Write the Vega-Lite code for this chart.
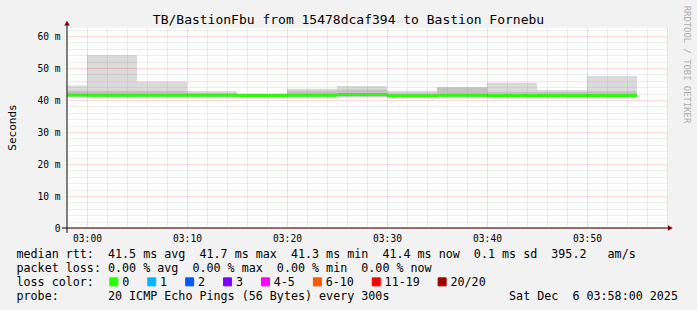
{
  "$schema": "https://vega.github.io/schema/vega-lite/v6.json",
  "width": 600,
  "height": 200,
  "autosize": {"type": "none"},
  "padding": {"left": 67, "top": 28, "right": 30, "bottom": 82},
  "background": "#f2f2f2",
  "config": {
    "view": {"fill": "white", "stroke": null},
    "axis": {"labelFont": "DejaVu Sans Mono", "titleFont": "DejaVu Sans Mono", "titleFontWeight": "normal", "titleColor": "black", "labelColor": "black"}
  },
  "datasets": {
    "smoke": [
      {"start": "2025-12-06T02:55:00", "end": "2025-12-06T03:00:00", "lo": 40.8, "ilo": 41.0, "med": 41.6, "ihi": 42.9, "hi": 44.5, "loss": "0"},
      {"start": "2025-12-06T03:00:00", "end": "2025-12-06T03:05:00", "lo": 40.8, "ilo": 41.0, "med": 41.5, "ihi": 42.9, "hi": 54.1, "loss": "0"},
      {"start": "2025-12-06T03:05:00", "end": "2025-12-06T03:10:00", "lo": 40.9, "ilo": 41.1, "med": 41.5, "ihi": 42.8, "hi": 45.8, "loss": "0"},
      {"start": "2025-12-06T03:10:00", "end": "2025-12-06T03:15:00", "lo": 40.9, "ilo": 41.1, "med": 41.5, "ihi": 42.2, "hi": 42.8, "loss": "0"},
      {"start": "2025-12-06T03:15:00", "end": "2025-12-06T03:20:00", "lo": 40.9, "ilo": 41.1, "med": 41.4, "ihi": 41.9, "hi": 42.1, "loss": "0"},
      {"start": "2025-12-06T03:20:00", "end": "2025-12-06T03:25:00", "lo": 40.8, "ilo": 41.0, "med": 41.5, "ihi": 42.9, "hi": 43.5, "loss": "0"},
      {"start": "2025-12-06T03:25:00", "end": "2025-12-06T03:30:00", "lo": 40.8, "ilo": 41.0, "med": 41.7, "ihi": 43.3, "hi": 44.4, "loss": "0"},
      {"start": "2025-12-06T03:30:00", "end": "2025-12-06T03:35:00", "lo": 40.7, "ilo": 40.9, "med": 41.3, "ihi": 42.3, "hi": 42.9, "loss": "0"},
      {"start": "2025-12-06T03:35:00", "end": "2025-12-06T03:40:00", "lo": 40.8, "ilo": 41.0, "med": 41.5, "ihi": 43.9, "hi": 44.1, "loss": "0"},
      {"start": "2025-12-06T03:40:00", "end": "2025-12-06T03:45:00", "lo": 40.8, "ilo": 41.0, "med": 41.4, "ihi": 42.6, "hi": 45.5, "loss": "0"},
      {"start": "2025-12-06T03:45:00", "end": "2025-12-06T03:50:00", "lo": 40.8, "ilo": 41.0, "med": 41.4, "ihi": 42.5, "hi": 43.1, "loss": "0"},
      {"start": "2025-12-06T03:50:00", "end": "2025-12-06T03:55:00", "lo": 40.8, "ilo": 41.0, "med": 41.4, "ihi": 42.7, "hi": 47.5, "loss": "0"}
    ]
  },
  "layer": [
    {
      "data": {"name": "smoke"},
      "mark": {"type": "rect", "color": "#dadada", "clip": true},
      "encoding": {
        "x": {
          "field": "start", "type": "temporal",
          "scale": {"domain": [{"year": 2025, "month": 12, "date": 6, "hours": 2, "minutes": 58}, {"year": 2025, "month": 12, "date": 6, "hours": 3, "minutes": 58}], "nice": false},
          "axis": {
            "orient": "bottom", "format": "%H:%M",
            "values": [
              {"year": 2025, "month": 12, "date": 6, "hours": 3, "minutes": 0},
              {"year": 2025, "month": 12, "date": 6, "hours": 3, "minutes": 10},
              {"year": 2025, "month": 12, "date": 6, "hours": 3, "minutes": 20},
              {"year": 2025, "month": 12, "date": 6, "hours": 3, "minutes": 30},
              {"year": 2025, "month": 12, "date": 6, "hours": 3, "minutes": 40},
              {"year": 2025, "month": 12, "date": 6, "hours": 3, "minutes": 50}
            ],
            "labelFontSize": 9.6, "labelPadding": 5, "labelFlush": false, "labelOverlap": false,
            "ticks": false, "domain": false,
            "grid": true, "gridColor": "#ff0000", "gridOpacity": 0.3, "gridDash": [1, 1], "gridWidth": 1, "zindex": 2,
            "title": [
              "median\u00a0rtt:\u00a0\u00a041.5\u00a0ms\u00a0avg\u00a0\u00a041.7\u00a0ms\u00a0max\u00a0\u00a041.3\u00a0ms\u00a0min\u00a0\u00a041.4\u00a0ms\u00a0now\u00a0\u00a00.1\u00a0ms\u00a0sd\u00a0\u00a0395.2\u00a0\u00a0\u00a0am/s",
              "packet\u00a0loss:\u00a00.00\u00a0%\u00a0avg\u00a0\u00a00.00\u00a0%\u00a0max\u00a0\u00a00.00\u00a0%\u00a0min\u00a0\u00a00.00\u00a0%\u00a0now",
              "loss\u00a0color:",
              "probe:\u00a0\u00a0\u00a0\u00a0\u00a0\u00a0\u00a020\u00a0ICMP\u00a0Echo\u00a0Pings\u00a0(56\u00a0Bytes)\u00a0every\u00a0300s\u00a0\u00a0\u00a0\u00a0\u00a0\u00a0\u00a0\u00a0\u00a0\u00a0\u00a0\u00a0\u00a0\u00a0\u00a0\u00a0\u00a0Sat\u00a0Dec\u00a0\u00a06\u00a003:58:00\u00a02025"
            ],
            "titleX": -51, "titleY": 29.5, "titleAlign": "left", "titleAnchor": "start", "titleBaseline": "alphabetic",
            "titleFontSize": 11.7, "titleLineHeight": 14
          }
        },
        "x2": {"field": "end"},
        "y": {
          "field": "lo", "type": "quantitative",
          "scale": {"domain": [0, 62.5], "nice": false, "zero": false},
          "axis": {
            "orient": "left", "values": [0, 10, 20, 30, 40, 50, 60],
            "labelExpr": "datum.value == 0 ? '0\u00a0\u00a0' : datum.value + ' m'",
            "labelFontSize": 9.6, "labelPadding": 7, "ticks": false, "domain": false,
            "grid": true, "gridColor": "#ff0000", "gridOpacity": 0.3, "gridDash": [1, 1], "gridWidth": 1, "zindex": 2,
            "title": "Seconds", "titleFontSize": 11, "titleX": -52, "titleY": 99, "titleAngle": -90,
            "titleAlign": "center", "titleBaseline": "alphabetic"
          }
        },
        "y2": {"field": "hi"}
      }
    },
    {
      "data": {"name": "smoke"},
      "mark": {"type": "rect", "color": "#c2c2c2", "clip": true},
      "encoding": {
        "x": {
          "field": "start", "type": "temporal",
          "axis": {
            "orient": "bottom",
            "values": [
              {"year": 2025, "month": 12, "date": 6, "hours": 2, "minutes": 58},
              {"year": 2025, "month": 12, "date": 6, "hours": 3, "minutes": 2},
              {"year": 2025, "month": 12, "date": 6, "hours": 3, "minutes": 4},
              {"year": 2025, "month": 12, "date": 6, "hours": 3, "minutes": 6},
              {"year": 2025, "month": 12, "date": 6, "hours": 3, "minutes": 8},
              {"year": 2025, "month": 12, "date": 6, "hours": 3, "minutes": 12},
              {"year": 2025, "month": 12, "date": 6, "hours": 3, "minutes": 14},
              {"year": 2025, "month": 12, "date": 6, "hours": 3, "minutes": 16},
              {"year": 2025, "month": 12, "date": 6, "hours": 3, "minutes": 18},
              {"year": 2025, "month": 12, "date": 6, "hours": 3, "minutes": 22},
              {"year": 2025, "month": 12, "date": 6, "hours": 3, "minutes": 24},
              {"year": 2025, "month": 12, "date": 6, "hours": 3, "minutes": 26},
              {"year": 2025, "month": 12, "date": 6, "hours": 3, "minutes": 28},
              {"year": 2025, "month": 12, "date": 6, "hours": 3, "minutes": 32},
              {"year": 2025, "month": 12, "date": 6, "hours": 3, "minutes": 34},
              {"year": 2025, "month": 12, "date": 6, "hours": 3, "minutes": 36},
              {"year": 2025, "month": 12, "date": 6, "hours": 3, "minutes": 38},
              {"year": 2025, "month": 12, "date": 6, "hours": 3, "minutes": 42},
              {"year": 2025, "month": 12, "date": 6, "hours": 3, "minutes": 44},
              {"year": 2025, "month": 12, "date": 6, "hours": 3, "minutes": 46},
              {"year": 2025, "month": 12, "date": 6, "hours": 3, "minutes": 48},
              {"year": 2025, "month": 12, "date": 6, "hours": 3, "minutes": 52},
              {"year": 2025, "month": 12, "date": 6, "hours": 3, "minutes": 54},
              {"year": 2025, "month": 12, "date": 6, "hours": 3, "minutes": 56},
              {"year": 2025, "month": 12, "date": 6, "hours": 3, "minutes": 58}
            ],
            "labels": false, "ticks": false, "domain": false,
            "grid": true, "gridColor": "#999999", "gridOpacity": 0.35, "gridDash": [1, 1], "gridWidth": 1, "zindex": 1,
            "title": null
          }
        },
        "x2": {"field": "end"},
        "y": {
          "field": "ilo", "type": "quantitative",
          "axis": {
            "orient": "left", "values": [2, 4, 6, 8, 12, 14, 16, 18, 22, 24, 26, 28, 32, 34, 36, 38, 42, 44, 46, 48, 52, 54, 56, 58, 62],
            "labels": false, "ticks": false, "domain": false,
            "grid": true, "gridColor": "#999999", "gridOpacity": 0.35, "gridDash": [1, 1], "gridWidth": 1, "zindex": 1,
            "title": null
          }
        },
        "y2": {"field": "ihi"}
      }
    },
    {
      "data": {"name": "smoke"},
      "mark": {"type": "rule", "strokeWidth": 3, "clip": true},
      "encoding": {
        "x": {
          "field": "start", "type": "temporal",
          "axis": {
            "orient": "top", "labels": false, "ticks": false, "domain": false, "grid": false,
            "title": "TB/BastionFbu from 15478dcaf394 to Bastion Fornebu",
            "titleFontSize": 13, "titleX": 281, "titleY": -4.5, "titleAlign": "center", "titleBaseline": "alphabetic"
          }
        },
        "x2": {"field": "end"},
        "y": {
          "field": "med", "type": "quantitative",
          "axis": {
            "orient": "right", "labels": false, "ticks": false, "domain": false, "grid": false,
            "title": "RRDTOOL / TOBI OETIKER", "titleFontSize": 8.9, "titleColor": "#aaaaaa",
            "titleAngle": 90, "titleX": 19.5, "titleY": 36, "titleAlign": "center", "titleBaseline": "middle"
          }
        },
        "color": {
          "field": "loss", "type": "nominal",
          "scale": {
            "domain": ["0", "1", "2", "3", "4-5", "6-10", "11-19", "20/20"],
            "range": ["#26ff00", "#00b8ff", "#0059ff", "#7e00ff", "#ff00ff", "#ff5500", "#ff0000", "#a10000"]
          },
          "legend": {
            "orient": "none", "legendX": 41, "legendY": 248, "direction": "horizontal", "padding": 0,
            "title": null, "gridAlign": "none",
            "labelFont": "DejaVu Sans Mono", "labelFontSize": 11.7, "labelColor": "black", "labelOffset": 2.5,
            "columnPadding": 14.9, "symbolType": "square", "symbolSize": 64, "symbolStrokeColor": "black", "symbolStrokeWidth": 1,
            "encode": {"symbols": {"update": {"fill": {"scale": "color", "field": "value"}, "stroke": {"value": "black"}, "strokeWidth": {"value": 1}, "opacity": {"value": 1}}}}
          }
        }
      }
    },
    {
      "data": {"values": [{}]},
      "mark": {"type": "rule", "color": "black", "strokeWidth": 1},
      "encoding": {
        "x": {"datum": {"year": 2025, "month": 12, "date": 6, "hours": 2, "minutes": 57, "seconds": 30}, "type": "temporal", "axis": null},
        "x2": {"datum": {"year": 2025, "month": 12, "date": 6, "hours": 3, "minutes": 58, "seconds": 15}},
        "y": {"datum": 0, "type": "quantitative", "axis": null}
      }
    },
    {
      "data": {"values": [{}]},
      "mark": {"type": "rule", "color": "black", "strokeWidth": 1},
      "encoding": {
        "x": {"datum": {"year": 2025, "month": 12, "date": 6, "hours": 2, "minutes": 58}, "type": "temporal", "axis": null},
        "y": {"datum": -1.5, "type": "quantitative", "axis": null},
        "y2": {"datum": 63.5}
      }
    },
    {
      "data": {"values": [{}]},
      "mark": {"type": "point", "shape": "triangle-right", "filled": true, "color": "#800000", "size": 30, "opacity": 1},
      "encoding": {
        "x": {"datum": {"year": 2025, "month": 12, "date": 6, "hours": 3, "minutes": 58, "seconds": 20}, "type": "temporal", "axis": null},
        "y": {"datum": 0, "type": "quantitative", "axis": null}
      }
    },
    {
      "data": {"values": [{}]},
      "mark": {"type": "point", "shape": "triangle-up", "filled": true, "color": "#800000", "size": 30, "opacity": 1},
      "encoding": {
        "x": {"datum": {"year": 2025, "month": 12, "date": 6, "hours": 2, "minutes": 58}, "type": "temporal", "axis": null},
        "y": {"datum": 64, "type": "quantitative", "axis": null}
      }
    }
  ],
  "resolve": {"axis": {"x": "independent", "y": "independent"}}
}
